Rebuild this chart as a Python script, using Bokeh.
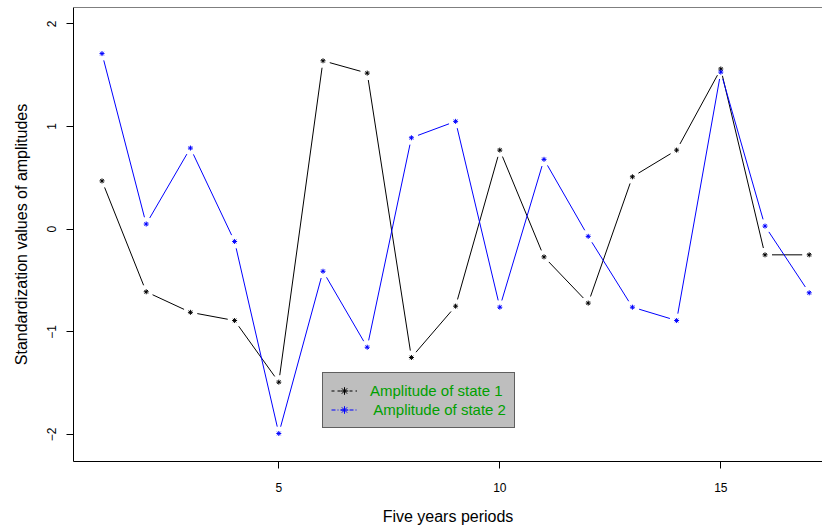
import numpy as np
from bokeh.plotting import figure
from bokeh.models import (Range1d, FixedTicker, Legend, LegendItem, Span,
                          ColumnDataSource)
from bokeh.embed import file_html
from bokeh.resources import INLINE

# ---- data ----
periods = list(range(1, 18))
state1 = [0.47, -0.61, -0.81, -0.89, -1.49, 1.64, 1.52, -1.25, -0.75, 0.77,
          -0.27, -0.72, 0.51, 0.77, 1.56, -0.25, -0.25]
state2 = [1.71, 0.05, 0.79, -0.12, -1.99, -0.41, -1.15, 0.89, 1.05, -0.76,
          0.68, -0.07, -0.76, -0.89, 1.53, 0.03, -0.62]
x_ticks = [5, 10, 15]
y_ticks = [-2, -1, 0, 1, 2]
y_tick_labels = ["\u22122", "\u22121", "0", "1", "2"]
label1 = "Amplitude of state 1"
label2 = " Amplitude of state 2"
x_title = "Five years periods"
y_title = "Standardization values of amplitudes"

FONT = "Liberation Sans"
W, H = 822, 528
BL, BR, BT, BB = 73, 0, 7, 67
x0 = 0.355
x1 = x0 + (W - BL - BR) / 44.2
y0, y1 = -2.263, 2.159

p = figure(width=W, height=H, output_backend="svg", toolbar_location=None,
           x_range=Range1d(x0, x1), y_range=Range1d(y0, y1),
           min_border_left=BL, min_border_right=BR, min_border_top=BT,
           min_border_bottom=BB)
p.xgrid.visible = False
p.ygrid.visible = False
p.outline_line_color = None
p.background_fill_color = "white"
p.border_fill_color = "white"

# top border of the box
p.add_layout(Span(location=y1, dimension="width", line_color="black",
                  line_width=1))

# scale factors (pixels per data unit) for type="b" gaps
sx = (W - BL - BR) / (x1 - x0)
sy = (H - BT - BB) / (y1 - y0)
GAP = 7.0


def gapped_segments(xs, ys):
    xs = np.asarray(xs, float)
    ys = np.asarray(ys, float)
    ax, ay, bx, by = xs[:-1], ys[:-1], xs[1:], ys[1:]
    dxp = (bx - ax) * sx
    dyp = (by - ay) * sy
    L = np.hypot(dxp, dyp)
    f = np.where(L > 2 * GAP, GAP / L, 0.5)
    return dict(x0=ax + (bx - ax) * f, y0=ay + (by - ay) * f,
                x1=bx - (bx - ax) * f, y1=by - (by - ay) * f)


for ys, col in ((state1, "black"), (state2, "#0000FF")):
    p.segment(x0="x0", y0="y0", x1="x1", y1="y1",
              source=ColumnDataSource(gapped_segments(periods, ys)),
              line_color=col, line_width=1)
    p.scatter(periods, ys, marker="asterisk", size=5, line_color=col,
              line_width=1)

# legend-only renderers (dashed styles)
src = ColumnDataSource(dict(x=periods, a=state1, b=state2))
l1 = p.line("x", "a", source=src, line_color="black", line_dash="3 3",
            line_width=1, visible=False)
m1 = p.scatter("x", "a", source=src, marker="asterisk", size=5,
               line_color="black", visible=False)
l2 = p.line("x", "b", source=src, line_color="#0000FF", line_dash="4 2 1 2",
            line_width=1, visible=False)
m2 = p.scatter("x", "b", source=src, marker="asterisk", size=5,
               line_color="#0000FF", visible=False)

legend = Legend(items=[LegendItem(label=label1, renderers=[l1, m1]),
                       LegendItem(label=label2, renderers=[l2, m2])],
                location=(249, 33), padding=8, spacing=0, margin=0,
                glyph_width=26, glyph_height=19, label_standoff=13,
                label_text_font=FONT, label_text_font_size="15px",
                label_text_color="#00A000", label_height=19,
                background_fill_color="#BEBEBE", background_fill_alpha=1.0,
                border_line_color="black", border_line_width=1,
                inactive_fill_alpha=0)
p.add_layout(legend, "center")

# axes
for ax in (p.xaxis[0], p.yaxis[0]):
    ax.axis_line_color = "black"
    ax.major_tick_line_color = "black"
    ax.minor_tick_line_color = None
    ax.major_tick_out = 7
    ax.major_tick_in = 0
    ax.major_label_text_font = FONT
    ax.major_label_text_font_size = "12px"
    ax.major_label_text_color = "black"
    ax.axis_label_text_font = FONT
    ax.axis_label_text_font_size = "16px"
    ax.axis_label_text_font_style = "normal"
    ax.axis_label_text_color = "black"

p.xaxis.ticker = FixedTicker(ticks=x_ticks)
p.xaxis.axis_label = x_title
p.xaxis.major_label_standoff = 14
p.xaxis.axis_label_standoff = 13

p.yaxis.ticker = FixedTicker(ticks=y_ticks)
p.yaxis.major_label_overrides = {t: s for t, s in zip(y_ticks, y_tick_labels)}
p.yaxis.major_label_orientation = "parallel"
p.yaxis.axis_label = y_title
p.yaxis.major_label_standoff = 10
p.yaxis.axis_label_standoff = 15

open("out.html", "w").write(file_html(p, INLINE))
